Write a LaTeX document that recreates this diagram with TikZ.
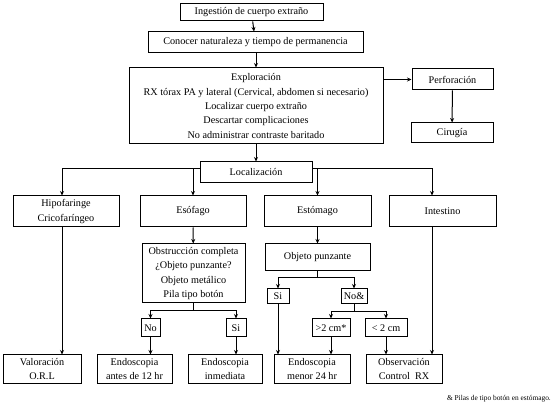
\documentclass[tikz,border=0pt]{standalone}
\usepackage{fontspec}
\setmainfont{Liberation Serif}
\usetikzlibrary{arrows.meta}

\begin{document}
\begin{tikzpicture}[x=1pt,y=-1pt,
  caja/.style={draw,line width=1pt,align=center,inner sep=1pt,font=\fontsize{10.2}{14.3}\selectfont},
  flecha/.style={-{Stealth[length=4.5pt,width=4pt]},line width=1pt}]
  \useasboundingbox (0,0) rectangle (554,411);
  % fila superior
  \node[caja,minimum width=143,minimum height=17] (ingesta) at (251.5,12.5) {Ingestión de cuerpo extraño};
  \node[caja,minimum width=215,minimum height=21] (conocer) at (255.5,42.5) {Conocer naturaleza y tiempo de permanencia};
  \node[caja,minimum width=254,minimum height=76] (explora) at (256,106) {Exploración\\RX tórax PA y lateral (Cervical, abdomen si necesario)\\Localizar cuerpo extraño\\Descartar complicaciones\\No administrar contraste baritado};
  \node[caja,minimum width=81,minimum height=21] (perfora) at (452.5,79.5) {Perforación};
  \node[caja,minimum width=82,minimum height=20] (cirugia) at (452,133) {Cirugía};
  \node[caja,minimum width=112,minimum height=21] (localiza) at (256,172.5) {Localización};
  % localizaciones
  \node[caja,minimum width=106,minimum height=31] (hipo) at (66,211.5) {Hipofaringe\\Cricofaríngeo};
  \node[caja,minimum width=106,minimum height=31] (esofago) at (193,211.5) {Esófago};
  \node[caja,minimum width=107,minimum height=31] (estomago) at (317.5,211.5) {Estómago};
  \node[caja,minimum width=107,minimum height=31] (intestino) at (442.5,211.5) {Intestino};
  \node[caja,minimum width=103,minimum height=59] (obstruc) at (193.5,273.5) {Obstrucción completa\\¿Objeto punzante?\\Objeto metálico\\Pila tipo botón};
  \node[caja,minimum width=105,minimum height=27] (punzante) at (317.5,257.5) {Objeto punzante};
  % decisiones
  \node[caja,minimum width=22,minimum height=15] (siest) at (278,296.5) {Si};
  \node[caja,minimum width=26,minimum height=15] (noest) at (354,296.5) {No\&};
  \node[caja,minimum width=19,minimum height=18] (noesof) at (150.5,328) {No};
  \node[caja,minimum width=20,minimum height=18] (siesof) at (236,328) {Si};
  \node[caja,minimum width=38,minimum height=18] (mayor) at (331,328) {>2 cm*};
  \node[caja,minimum width=42,minimum height=18] (menor) at (386,328) {< 2 cm};
  % resultados
  \node[caja,minimum width=78,minimum height=28] (valora) at (42,369) {Valoración\\O.R.L};
  \node[caja,minimum width=75,minimum height=28] (endoantes) at (134.5,369) {Endoscopia\\antes de 12 hr};
  \node[caja,minimum width=74,minimum height=28] (endoinm) at (225,369) {Endoscopia\\inmediata};
  \node[caja,minimum width=76,minimum height=28] (endomenor) at (312,369) {Endoscopia\\menor 24 hr};
  \node[caja,minimum width=76,minimum height=28] (observa) at (404,369) {Observación\\Control~ RX};
  \node[anchor=east,inner sep=0pt,font=\fontsize{7.4}{9}\selectfont] (nota) at (551,399) {\& Pilas de tipo botón en estómago.};
  % conectores
  \draw[flecha] (ingesta) -- (conocer);
  \draw[flecha] (conocer.south -| explora.north) -- (explora);
  \draw[flecha] (perfora.west -| explora.east) -- (perfora.west);
  \draw[flecha] (perfora) -- (cirugia);
  \draw[flecha] (explora) -- (localiza);
  \coordinate (izq) at ([yshift=4]localiza.west);
  \coordinate (der) at ([yshift=4]localiza.east);
  \draw[flecha] (izq) -| ([xshift=-4]hipo.north);
  \draw[flecha] (izq) -| (esofago.north);
  \draw[flecha] (der) -| (estomago.north);
  \draw[flecha] (der) -| ([xshift=-10.5]intestino.north);
  \draw[flecha] (esofago) -- (obstruc);
  \draw[flecha] (estomago) -- (punzante);
  \draw[flecha] (obstruc.south) -- ++(0,7) -| (noesof.north);
  \draw[flecha] (obstruc.south) -- ++(0,7) -| (siesof.north);
  \draw[flecha] (punzante.south) -- ++(0,6) -| (siest.north);
  \draw[flecha] (punzante.south) -- ++(0,6) -| (noest.north);
  \draw[flecha] (noest.south) -- ++(0,7) -| (mayor.north);
  \draw[flecha] (noest.south) -- ++(0,7) -| (menor.north);
  \draw[flecha] ([xshift=-4]hipo.south) -- ([xshift=-4]hipo.south |- valora.north);
  \draw[flecha] ([xshift=-10.5]intestino.south) -- ([xshift=-10.5]intestino.south |- observa.north);
  \draw[flecha] (noesof) -- (noesof.south |- endoantes.north);
  \draw[flecha] (siesof) -- (siesof.south |- endoinm.north);
  \draw[flecha] (siest) -- (siest.south |- endomenor.north);
  \draw[flecha] (mayor) -- (mayor.south |- endomenor.north);
  \draw[flecha] (menor) -- (menor.south |- observa.north);
\end{tikzpicture}
\end{document}
